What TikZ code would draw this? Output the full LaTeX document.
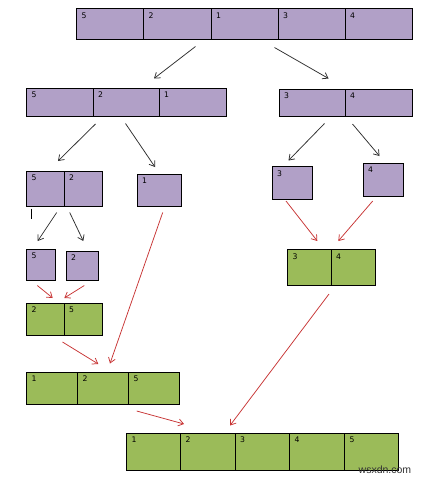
\documentclass[tikz,border=0pt]{standalone}
\usepackage{fontspec}
\setmainfont{DejaVu Sans}
\newfontfamily\wmfont{Liberation Sans}
\usetikzlibrary{arrows.meta}
\definecolor{purp}{HTML}{B1A0C7}
\definecolor{grn}{HTML}{9BBB59}
\definecolor{arrred}{HTML}{C83434}
\definecolor{arrblk}{HTML}{2E2E2E}
\tikzset{
  cellP/.style={draw=black, line width=0.9pt, fill=purp, inner sep=0pt, anchor=north west},
  cellG/.style={draw=black, line width=0.9pt, fill=grn, inner sep=0pt, anchor=north west},
  num/.style={inner sep=0pt, anchor=north west, font=\fontsize{7.7}{9}\selectfont, text=black},
  splitarr/.style={draw=arrblk, line width=0.75pt, -{Straight Barb[length=5pt,width=7pt]}},
  mergearr/.style={draw=arrred, line width=0.75pt, -{Straight Barb[length=5pt,width=7pt]}},
}
% name, style, x, y, w, h, text
\newcommand\mycell[7]{%
  \node[#2, minimum width=#5pt, minimum height=#6pt] (#1) at (#3,#4) {};
  \node[num] (#1t) at ([xshift=5.5pt,yshift=-4.5pt]#1.north west) {#7};}
\begin{document}
\begin{tikzpicture}[x=1pt,y=-1pt]
\useasboundingbox[fill=white] (0,0) rectangle (432,480);
% level 0
\mycell{a1}{cellP}{76}{8}{67}{30.5}{5}
\mycell{a2}{cellP}{143}{8}{67.5}{30.5}{2}
\mycell{a3}{cellP}{210.5}{8}{67}{30.5}{1}
\mycell{a4}{cellP}{277.5}{8}{67}{30.5}{3}
\mycell{a5}{cellP}{344.5}{8}{67}{30.5}{4}
% level 1
\mycell{b1}{cellP}{26}{87.5}{66.5}{28.5}{5}
\mycell{b2}{cellP}{92.5}{87.5}{66}{28.5}{2}
\mycell{b3}{cellP}{158.5}{87.5}{67}{28.5}{1}
\mycell{c1}{cellP}{278.5}{88.5}{66}{27}{3}
\mycell{c2}{cellP}{344.5}{88.5}{67}{27}{4}
% level 2
\mycell{d1}{cellP}{26}{170.5}{37.5}{35}{5}
\mycell{d2}{cellP}{63.5}{170.5}{38}{35}{2}
\mycell{e1}{cellP}{136.5}{173.5}{44}{32}{1}
\mycell{f1}{cellP}{271.5}{166}{40}{32.5}{3}
\mycell{g1}{cellP}{362.5}{162.5}{40}{33.5}{4}
% level 3
\mycell{h1}{cellP}{26}{248.5}{28.5}{31.5}{5}
\mycell{i1}{cellP}{65.5}{250.5}{32}{29.5}{2}
% merges
\mycell{j1}{cellG}{26}{302.5}{37.5}{32.5}{2}
\mycell{j2}{cellG}{63.5}{302.5}{38}{32.5}{5}
\mycell{k1}{cellG}{287}{249}{43.5}{35.5}{3}
\mycell{k2}{cellG}{330.5}{249}{44}{35.5}{4}
\mycell{m1}{cellG}{26}{371.5}{51}{32.5}{1}
\mycell{m2}{cellG}{77}{371.5}{51}{32.5}{2}
\mycell{m3}{cellG}{128}{371.5}{50.5}{32.5}{5}
\mycell{n1}{cellG}{126}{432.5}{54}{37.5}{1}
\mycell{n2}{cellG}{180}{432.5}{54.5}{37.5}{2}
\mycell{n3}{cellG}{234.5}{432.5}{54.5}{37.5}{3}
\mycell{n4}{cellG}{289}{432.5}{55}{37.5}{4}
\mycell{n5}{cellG}{344}{432.5}{53.5}{37.5}{5}
% small tick under [5|2]
\coordinate (tk1) at (31.7,208.5);
\coordinate (tk2) at (31.7,218.5);
\draw[line width=0.9pt] (tk1) -- (tk2);
% split arrows
\coordinate (s1a) at (195.5,46.5); \coordinate (s1b) at (154,78.5);
\coordinate (s2a) at (274.5,47.5); \coordinate (s2b) at (328.5,78.5);
\coordinate (s3a) at (95.5,124);   \coordinate (s3b) at (58,161);
\coordinate (s4a) at (125.5,123.5);\coordinate (s4b) at (155,167);
\coordinate (s5a) at (324.5,123.5);\coordinate (s5b) at (288.5,160.5);
\coordinate (s6a) at (352.5,124);  \coordinate (s6b) at (379.5,156);
\coordinate (s7a) at (56.7,212.5); \coordinate (s7b) at (37.7,241);
\coordinate (s8a) at (69.7,212.5); \coordinate (s8b) at (83.3,241);
\draw[splitarr] (s1a) -- (s1b);
\draw[splitarr] (s2a) -- (s2b);
\draw[splitarr] (s3a) -- (s3b);
\draw[splitarr] (s4a) -- (s4b);
\draw[splitarr] (s5a) -- (s5b);
\draw[splitarr] (s6a) -- (s6b);
\draw[splitarr] (s7a) -- (s7b);
\draw[splitarr] (s8a) -- (s8b);
% merge arrows
\coordinate (r1a) at (37.3,285.5);  \coordinate (r1b) at (52.7,298);
\coordinate (r2a) at (84.3,285.5);  \coordinate (r2b) at (64.3,298);
\coordinate (r3a) at (286,201);     \coordinate (r3b) at (317.3,241);
\coordinate (r4a) at (372.7,201);   \coordinate (r4b) at (338.3,241);
\coordinate (r5a) at (162.7,212.5); \coordinate (r5b) at (110,363.5);
\coordinate (r6a) at (62.5,342);    \coordinate (r6b) at (98.3,364);
\coordinate (r7a) at (136.7,411);   \coordinate (r7b) at (184,424);
\coordinate (r8a) at (329,294);     \coordinate (r8b) at (230,425.5);
\draw[mergearr] (r1a) -- (r1b);
\draw[mergearr] (r2a) -- (r2b);
\draw[mergearr] (r3a) -- (r3b);
\draw[mergearr] (r4a) -- (r4b);
\draw[mergearr] (r5a) -- (r5b);
\draw[mergearr] (r6a) -- (r6b);
\draw[mergearr] (r7a) -- (r7b);
\draw[mergearr] (r8a) -- (r8b);
% watermark
\node[inner sep=0pt, anchor=base west, font=\wmfont\fontsize{10.5}{12}\selectfont, text=black!80] (wm) at (358.5,473) {wsxdn.com};
\end{tikzpicture}
\end{document}
